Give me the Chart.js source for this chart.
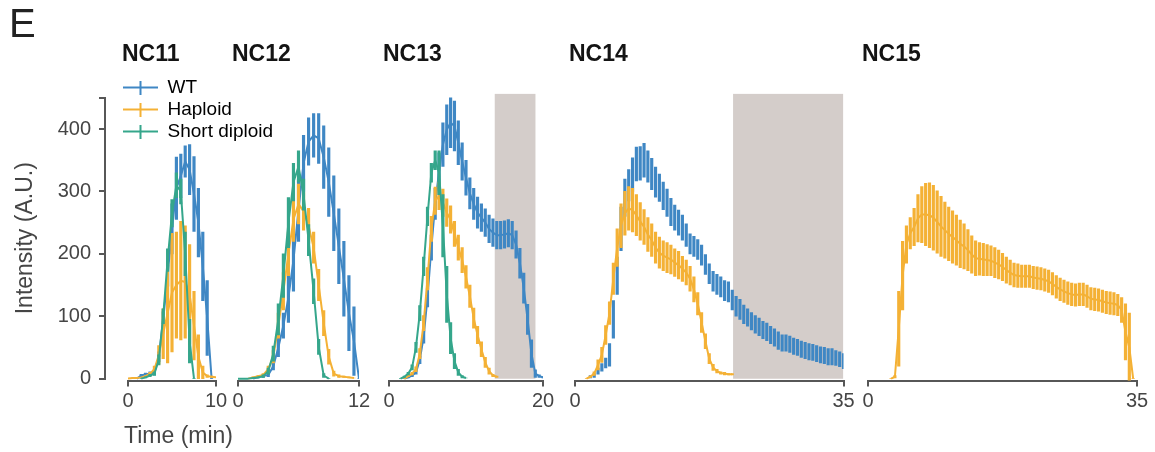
<!DOCTYPE html>
<html>
<head>
<meta charset="utf-8">
<title>Intensity traces NC11-NC15</title>
<script src="https://cdn.jsdelivr.net/npm/chart.js@4.4.1/dist/chart.umd.min.js"></script>
<style>
  html, body { margin: 0; background: #fff; }
  #fig { position: relative; width: 1155px; height: 452px; overflow: hidden; }
  #fig canvas { position: absolute; }
</style>
</head>
<body>
<div id="fig"></div>
<script>
// ---- data: intensity (A.U.), one sample every 0.5 min from the given start ----
const STEP = 0.5;
const seriesNames = ['WT', 'Haploid', 'Short diploid'];
const cycles = ['NC11', 'NC12', 'NC13', 'NC14', 'NC15'];
const cycleEnd = [10, 12, 20, 35, 35];
const yTicks = [0, 100, 200, 300, 400];
const yAxisTop = 450;

// grey windows (min)
const shade13 = [13.7, 19.05];
const shade14 = [20.6, 35];

// NC11
const wt11Start = 1.0;
const wt11 = [0, 5, 7, 8, 10, 35, 95, 165, 240, 305, 325, 348, 335, 296, 250, 180, 97, 0];
const wt11Err = [0, 2, 2, 3, 4, 8, 12, 17, 40, 50, 35, 25, 40, 60, 55, 55, 60, 0];
const hap11Start = 0;
const hap11 = [0, 1, 1, 2, 4, 8, 15, 38, 72, 105, 138, 150, 157, 155, 135, 85, 35, 10, 4, 3, 2];
const hap11Err = [0, 0, 0, 0, 1, 2, 5, 15, 40, 80, 95, 85, 95, 90, 80, 55, 35, 10, 2, 1, 0];
const sd11Start = 1.5;
const sd11 = [0, 2, 5, 8, 30, 100, 190, 265, 310, 300, 200, 60, 0];
const sd11Err = [0, 1, 2, 3, 8, 12, 18, 22, 20, 20, 35, 35, 0];

// NC12
const wt12Start = 1.5;
const wt12 = [0, 2, 4, 6, 20, 50, 85, 130, 190, 270, 345, 380, 390, 385, 355, 315, 265, 212, 160, 105, 60, 0];
const wt12Err = [0, 1, 2, 3, 6, 15, 20, 40, 50, 50, 45, 38, 35, 40, 50, 55, 60, 60, 60, 60, 55, 0];
const hap12Start = 1.0;
const hap12 = [0, 2, 4, 6, 15, 35, 85, 140, 200, 255, 280, 268, 245, 210, 150, 89, 35, 8, 4, 3, 2, 1];
const hap12Err = [0, 1, 1, 2, 5, 10, 20, 30, 35, 35, 32, 30, 28, 25, 25, 20, 12, 4, 2, 1, 1, 0];
const sd12Start = 0;
const sd12 = [0, 0, 0, 1, 2, 4, 12, 40, 95, 165, 250, 315, 340, 295, 222, 140, 51, 5, 0];
const sd12Err = [0, 0, 0, 0, 1, 2, 5, 12, 25, 35, 40, 30, 25, 25, 25, 20, 12, 3, 0];

// NC13
const wt13Start = 2.0;
const wt13 = [0, 2, 5, 10, 30, 67, 130, 210, 280, 332, 375, 399, 410, 405, 378, 348, 322, 297, 280, 266,
  258, 250, 240, 234, 230, 230, 231, 233, 230, 215, 185, 145, 95, 40, 8, 4, 2];
const wt13Err = [0, 1, 2, 3, 6, 10, 15, 20, 25, 30, 35, 40, 40, 40, 35, 30, 28, 25, 25, 25,
  22, 22, 22, 22, 22, 22, 22, 22, 22, 22, 24, 24, 24, 22, 6, 2, 1];
const hap13Start = 2.0;
const hap13 = [0, 4, 8, 15, 40, 89, 160, 240, 285, 293, 282, 266, 255, 232, 210, 190, 163, 132, 97, 70, 47, 26, 12, 5, 3];
const hap13Err = [0, 1, 2, 4, 8, 12, 18, 20, 22, 22, 22, 22, 22, 20, 20, 20, 18, 18, 16, 14, 12, 8, 5, 2, 1];
const sd13Start = 1.5;
const sd13 = [0, 3, 8, 18, 50, 105, 180, 260, 330, 350, 330, 245, 135, 65, 28, 10, 3, 1];
const sd13Err = [0, 1, 2, 4, 8, 12, 15, 15, 15, 15, 35, 50, 45, 25, 12, 5, 2, 0];

// NC14
const wt14Start = 2.0;
const wt14 = [3, 5, 12, 18, 25, 38, 95, 165, 240, 290,
  310, 327, 344, 345, 350, 340, 328, 315, 306, 293,
  282, 267, 258, 250, 242, 230, 216, 212, 207, 198,
  183, 168, 156, 151, 147, 141, 139, 126, 116, 111,
  103, 98, 92, 87, 83, 78, 75, 70, 66, 61,
  57, 57, 55, 52, 50, 47, 45, 43, 42, 40,
  38, 37, 35, 35, 33, 31, 28];
const wt14Err = [2, 3, 5, 6, 8, 18, 30, 30, 35, 30,
  25, 27, 27, 27, 27, 25, 25, 24, 22, 22,
  22, 22, 20, 20, 20, 18, 16, 16, 16, 16,
  16, 16, 16, 16, 16, 16, 16, 16, 16, 16,
  15, 14, 14, 14, 14, 14, 14, 14, 14, 14,
  13, 13, 13, 13, 13, 13, 13, 13, 13, 13,
  13, 13, 13, 13, 12, 12, 12];
const hap14Start = 1.5;
const hap14 = [0, 3, 8, 22, 38, 70, 105, 160, 210, 245,
  265, 273, 270, 262, 252, 243, 231, 222, 210, 202,
  197, 194, 191, 186, 182, 176, 170, 160, 143, 120,
  90, 60, 32, 18, 12, 9, 8, 7, 7];
const hap14Err = [0, 1, 3, 8, 12, 15, 18, 25, 30, 35,
  35, 35, 35, 33, 30, 28, 27, 26, 25, 25,
  24, 24, 23, 22, 22, 20, 20, 20, 20, 18,
  16, 12, 8, 5, 3, 2, 2, 1, 1];

// NC15
const hap15Start = 3.0;
const hap15 = [0, 3, 80, 165, 215, 233, 243, 257, 263, 263,
  262, 258, 251, 244, 238, 232, 227, 222, 216, 212,
  206, 199, 193, 192, 191, 190, 189, 186, 183, 179,
  174, 170, 166, 165, 164, 164, 164, 162, 161, 160,
  158, 156, 152, 147, 143, 140, 137, 135, 134, 135,
  135, 132, 128, 127, 126, 124, 122, 121, 120, 118,
  110, 75, 50, 0];
const hap15Err = [0, 2, 60, 55, 30, 25, 30, 38, 45, 50,
  52, 52, 50, 48, 45, 43, 42, 40, 38, 36,
  33, 30, 28, 26, 26, 25, 24, 24, 23, 22,
  21, 20, 19, 19, 18, 18, 18, 18, 18, 18,
  18, 18, 18, 18, 18, 18, 18, 18, 18, 18,
  18, 18, 18, 18, 18, 18, 18, 18, 18, 17,
  20, 45, 55, 0];

// ---- look & layout ----
const COLORS = ['#3f87c4', '#f4b135', '#35a68b'];
const SHADE = '#d4cdca';
const AXIS = '#575757';
const TEXT = '#454545';
const W = 1155, H = 452;
const areaLeft = [128, 238, 389, 575, 868];
const areaRight = [216, 359, 543, 843.5, 1137];
const PLOT_TOP = 93.5, PLOT_BOTTOM = 380.5, Y_LO = -3, Y_HI = 457;
const PX_PER = (PLOT_BOTTOM - PLOT_TOP) / (Y_HI - Y_LO);
const ZERO_PX = PLOT_BOTTOM + Y_LO * PX_PER;
const TITLE_MID = 55;

Chart.defaults.font.family = "'Liberation Sans', Arial, Helvetica, sans-serif";
Chart.defaults.color = TEXT;

const fig = document.getElementById('fig');
function addCanvas(left, top, w, h) {
  const c = document.createElement('canvas');
  c.width = w; c.height = h;
  c.style.left = left + 'px'; c.style.top = top + 'px';
  fig.appendChild(c);
  return c;
}

function series(start, mean, err, color, order, showMean = true) {
  const out = [{
    type: 'bar',
    data: mean.map((v, k) => ({ x: start + k * STEP, y: [v - err[k], v + err[k]] })),
    backgroundColor: color, borderWidth: 0, barThickness: 2.5, grouped: false, order
  }];
  if (showMean) {
    out.push({
      type: 'line',
      data: mean.map((v, k) => ({ x: start + k * STEP, y: v })),
      borderColor: color, borderWidth: 2, pointRadius: 0, tension: 0,
      borderJoinStyle: 'round', fill: false, order
    });
  }
  return out;
}

function shade(range) {
  return {
    type: 'line',
    data: [{ x: range[0], y: Y_HI }, { x: range[1], y: Y_HI }],
    fill: 'origin', backgroundColor: SHADE, borderColor: 'rgba(0,0,0,0)',
    borderWidth: 0, pointRadius: 0, order: 9
  };
}

function drawPanel(i, datasets) {
  const PADL = 6;
  const w = areaRight[i] - areaLeft[i];
  const cw = Math.ceil(PADL + w + 16);
  const c = addCanvas(areaLeft[i] - PADL, 0, cw, H);
  new Chart(c, {
    type: 'line',
    data: { datasets },
    options: {
      responsive: false, animation: false, events: [],
      layout: { padding: 0, autoPadding: false },
      plugins: {
        legend: { display: false },
        tooltip: { enabled: false },
        title: {
          display: true, text: cycles[i], align: 'start', color: '#141414',
          font: { size: 23, weight: 'bold', lineHeight: 1 },
          padding: { top: TITLE_MID - 11.5, bottom: PLOT_TOP - TITLE_MID - 11.5 }
        }
      },
      scales: {
        x: {
          type: 'linear', min: 0, max: cycleEnd[i], offset: false,
          border: { display: true, color: AXIS, width: 2 },
          grid: { offset: false, drawOnChartArea: false, drawTicks: true, tickLength: 6, color: AXIS, lineWidth: 2 },
          ticks: { color: TEXT, font: { size: 20 }, padding: 3, maxRotation: 0, autoSkip: false },
          afterBuildTicks: s => { s.ticks = [{ value: 0 }, { value: cycleEnd[i] }]; },
          afterFit: s => {
            s.height = H - PLOT_BOTTOM;
            s.paddingLeft = PADL;
            s.paddingRight = cw - PADL - w;
          }
        },
        y: { display: false, min: Y_LO, max: Y_HI }
      }
    }
  });
}

// ---- shared y axis, panel letter and the time label ----
(function drawFrame() {
  const left = 9, axisX = 105, areaEnd = 252;
  const top = ZERO_PX - yAxisTop * PX_PER;
  const c = addCanvas(left, 0, areaEnd - left, H);
  new Chart(c, {
    type: 'line',
    data: { datasets: [] },
    options: {
      responsive: false, animation: false, events: [],
      layout: { padding: 0, autoPadding: false },
      plugins: {
        legend: { display: false },
        tooltip: { enabled: false },
        title: {
          display: true, text: 'E', align: 'start', color: '#222',
          font: { size: 40, weight: 'normal', lineHeight: 1 },
          padding: { top: 6, bottom: top - 46 }
        }
      },
      scales: {
        x: {
          type: 'linear', min: 0, max: 1,
          border: { display: false }, grid: { display: false }, ticks: { display: false },
          title: { display: true, text: 'Time (min)', color: TEXT,
                   font: { size: 23, lineHeight: 1 }, padding: { top: 0, bottom: 4 } },
          afterFit: s => { s.height = H - ZERO_PX; s.paddingLeft = 0; s.paddingRight = 0; }
        },
        y: {
          min: 0, max: yAxisTop,
          border: { display: true, color: AXIS, width: 2 },
          grid: { drawOnChartArea: false, drawTicks: true, tickLength: 6, color: AXIS, lineWidth: 2 },
          ticks: { color: TEXT, font: { size: 20 }, padding: 8,
                   callback: v => (yTicks.includes(v) ? String(v) : '') },
          afterBuildTicks: s => { s.ticks = yTicks.concat([yAxisTop]).map(v => ({ value: v })); },
          title: { display: true, text: 'Intensity (A.U.)', color: TEXT,
                   font: { size: 23, lineHeight: 1 }, padding: { top: 5, bottom: 0 } },
          afterFit: s => { s.width = axisX - left; s.paddingTop = 0; s.paddingBottom = 0; }
        }
      }
    }
  });
})();

// ---- panels ----
drawPanel(0, [
  ...series(wt11Start, wt11, wt11Err, COLORS[0], 3),
  ...series(hap11Start, hap11, hap11Err, COLORS[1], 2),
  ...series(sd11Start, sd11, sd11Err, COLORS[2], 1)
]);
drawPanel(1, [
  ...series(wt12Start, wt12, wt12Err, COLORS[0], 3),
  ...series(hap12Start, hap12, hap12Err, COLORS[1], 2),
  ...series(sd12Start, sd12, sd12Err, COLORS[2], 1)
]);
drawPanel(2, [
  shade(shade13),
  ...series(wt13Start, wt13, wt13Err, COLORS[0], 3),
  ...series(hap13Start, hap13, hap13Err, COLORS[1], 2),
  ...series(sd13Start, sd13, sd13Err, COLORS[2], 1)
]);
drawPanel(3, [
  shade(shade14),
  ...series(wt14Start, wt14, wt14Err, COLORS[0], 3, false),
  ...series(hap14Start, hap14, hap14Err, COLORS[1], 2)
]);
drawPanel(4, [
  ...series(hap15Start, hap15, hap15Err, COLORS[1], 2)
]);

// ---- legend ----
function legendMark(color) {
  const c = document.createElement('canvas');
  c.width = 35; c.height = 14;
  const g = c.getContext('2d');
  g.fillStyle = color;
  g.fillRect(0, 6, 35, 2);
  g.fillRect(16.5, 0, 2, 14);
  return c;
}
const marks = COLORS.map(legendMark);
(function drawLegend() {
  const c = addCanvas(120, 75, 175, 72);
  new Chart(c, {
    type: 'line',
    data: { datasets: seriesNames.map((n, k) => ({ label: n, data: [], borderColor: COLORS[k] })) },
    options: {
      responsive: false, animation: false, events: [],
      layout: { padding: 0, autoPadding: false },
      scales: { x: { display: false }, y: { display: false } },
      plugins: {
        tooltip: { enabled: false },
        legend: {
          position: 'chartArea', align: 'start',
          labels: {
            usePointStyle: true, pointStyleWidth: 35, padding: 3,
            color: '#222', font: { size: 19 },
            generateLabels: ch => ch.data.datasets.map((d, k) => ({
              text: d.label, pointStyle: marks[k], fillStyle: COLORS[k],
              strokeStyle: COLORS[k], lineWidth: 0, hidden: false, datasetIndex: k
            }))
          }
        }
      }
    }
  });
})();
</script>
</body>
</html>
